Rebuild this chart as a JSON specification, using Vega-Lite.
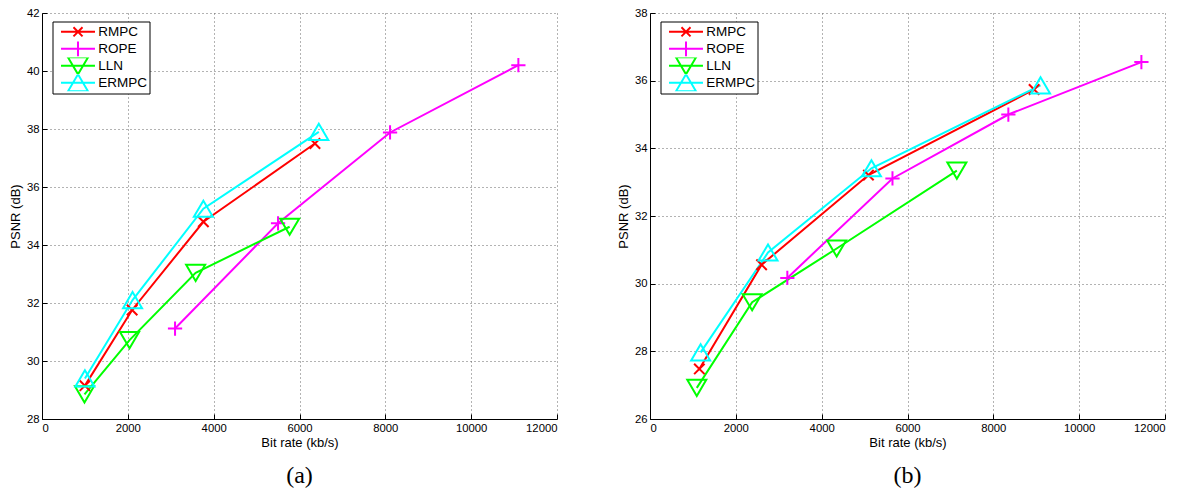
{
  "$schema": "https://vega.github.io/schema/vega-lite/v6.json",
  "padding": {"left": 9, "top": 7, "right": 2, "bottom": 2},
  "background": "white",
  "spacing": 93,
  "bounds": "flush",
  "config": {
    "view": {"stroke": null},
    "font": "Liberation Sans",
    "axis": {
      "labelFont": "Liberation Sans", "labelFontSize": 11.3, "labelColor": "#000",
      "titleFont": "Liberation Sans", "titleFontSize": 13, "titleFontWeight": "normal", "titleColor": "#000",
      "domainColor": "#000", "domainWidth": 1, "tickColor": "#000", "tickSize": -5, "tickWidth": 1,
      "grid": true, "gridColor": "#666", "gridDash": [1, 3], "gridWidth": 1, "gridOpacity": 1,
      "labelPadding": 8
    },
    "legend": {
      "labelFont": "Liberation Sans", "labelFontSize": 13.5, "labelColor": "#000",
      "strokeColor": "#000", "fillColor": "white", "padding": 2,
      "symbolSize": 128, "symbolStrokeWidth": 2, "rowPadding": 0, "columnPadding": 0, "clipHeight": 16.7,
      "symbolOffset": 16.5, "labelOffset": 13.2, "symbolFillColor": "transparent"
    },
    "title": {"font": "Liberation Serif", "fontSize": 24, "fontWeight": "normal", "color": "#000", "orient": "bottom", "anchor": "middle", "offset": 15}
  },
  "datasets": {
    "pts": [
      {"panel": "a", "method": "RMPC", "rate": 1000, "psnr": 29.15},
      {"panel": "a", "method": "RMPC", "rate": 2100, "psnr": 31.76},
      {"panel": "a", "method": "RMPC", "rate": 3760, "psnr": 34.8},
      {"panel": "a", "method": "RMPC", "rate": 6360, "psnr": 37.5},
      {"panel": "a", "method": "ROPE", "rate": 3100, "psnr": 31.12},
      {"panel": "a", "method": "ROPE", "rate": 5500, "psnr": 34.75},
      {"panel": "a", "method": "ROPE", "rate": 8110, "psnr": 37.88},
      {"panel": "a", "method": "ROPE", "rate": 11100, "psnr": 40.2},
      {"panel": "a", "method": "LLN", "rate": 990, "psnr": 28.85},
      {"panel": "a", "method": "LLN", "rate": 2040, "psnr": 30.72},
      {"panel": "a", "method": "LLN", "rate": 3580, "psnr": 33.04},
      {"panel": "a", "method": "LLN", "rate": 5770, "psnr": 34.63},
      {"panel": "a", "method": "ERMPC", "rate": 1000, "psnr": 29.4},
      {"panel": "a", "method": "ERMPC", "rate": 2110, "psnr": 32.1},
      {"panel": "a", "method": "ERMPC", "rate": 3760, "psnr": 35.25},
      {"panel": "a", "method": "ERMPC", "rate": 6450, "psnr": 37.9},
      {"panel": "b", "method": "RMPC", "rate": 1150, "psnr": 27.48},
      {"panel": "b", "method": "RMPC", "rate": 2600, "psnr": 30.56},
      {"panel": "b", "method": "RMPC", "rate": 5090, "psnr": 33.21},
      {"panel": "b", "method": "RMPC", "rate": 8950, "psnr": 35.74},
      {"panel": "b", "method": "ROPE", "rate": 3200, "psnr": 30.17},
      {"panel": "b", "method": "ROPE", "rate": 5650, "psnr": 33.11},
      {"panel": "b", "method": "ROPE", "rate": 8350, "psnr": 35.0},
      {"panel": "b", "method": "ROPE", "rate": 11450, "psnr": 36.55},
      {"panel": "b", "method": "LLN", "rate": 1090, "psnr": 26.92},
      {"panel": "b", "method": "LLN", "rate": 2380, "psnr": 29.45},
      {"panel": "b", "method": "LLN", "rate": 4350, "psnr": 31.04},
      {"panel": "b", "method": "LLN", "rate": 7150, "psnr": 33.34},
      {"panel": "b", "method": "ERMPC", "rate": 1180, "psnr": 27.97},
      {"panel": "b", "method": "ERMPC", "rate": 2750, "psnr": 30.92},
      {"panel": "b", "method": "ERMPC", "rate": 5160, "psnr": 33.41},
      {"panel": "b", "method": "ERMPC", "rate": 9100, "psnr": 35.86}
    ]
  },
  "resolve": {"legend": {"color": "independent"}, "scale": {"color": "independent"}},
  "hconcat": [
    {
      "width": 515, "height": 406,
      "title": "(a)",
      "data": {"name": "pts"},
      "transform": [{"filter": "datum.panel === 'a'"}],
      "encoding": {
        "x": {"field": "rate", "type": "quantitative", "scale": {"domain": [0, 12000], "nice": false},
              "axis": {"title": "Bit rate (kb/s)", "values": [0, 2000, 4000, 6000, 8000, 10000, 12000], "format": "d", "titlePadding": 3}},
        "y": {"field": "psnr", "type": "quantitative", "scale": {"domain": [28, 42], "nice": false, "zero": false},
              "axis": {"title": "PSNR (dB)", "values": [28, 30, 32, 34, 36, 38, 40, 42], "titlePadding": 4}}
      },
      "resolve": {"scale": {"color": "independent"}},
      "layer": [
        {
          "mark": {"type": "line", "strokeWidth": 2},
          "encoding": {
            "color": {"field": "method", "type": "nominal",
              "scale": {"domain": ["RMPC", "ROPE", "LLN", "ERMPC"], "range": ["#ff0000", "#ff00ff", "#00ff00", "#00ffff"]},
              "legend": {"title": null, "orient": "none", "legendX": 10.5, "legendY": 8.5,
                "encode": {"symbols": {"update": {
                  "shape": {"signal": "datum.value === 'RMPC' ? 'M-3,0L3,0M-0.8,-0.8L0.8,0.8M-0.8,0.8L0.8,-0.8' : datum.value === 'ROPE' ? 'M-3,0L3,0M-1.3,0L1.3,0M0,-1.3L0,1.3' : datum.value === 'LLN' ? 'M-3,0L3,0M-1.77,-1.5L1.77,-1.5L0,1.5Z' : 'M-3,0L3,0M0,-1.5L1.77,1.5L-1.77,1.5Z'"},
                  "fill": {"value": "transparent"},
                  "size": {"value": 128},
                  "strokeWidth": {"value": 2}
                }}}}
            }
          }
        },
        {
          "mark": {"type": "point", "filled": false, "strokeWidth": 2, "size": 361, "opacity": 1},
          "encoding": {
            "color": {"field": "method", "type": "nominal", "legend": null,
              "scale": {"domain": ["RMPC", "ROPE", "LLN", "ERMPC"], "range": ["#ff0000", "#ff00ff", "#00ff00", "#00ffff"]}},
            "shape": {"field": "method", "type": "nominal", "legend": null,
              "scale": {"domain": ["RMPC", "ROPE", "LLN", "ERMPC"],
                "range": ["M-0.55,-0.55L0.55,0.55M-0.55,0.55L0.55,-0.55", "M-0.75,0L0.75,0M0,-0.75L0,0.75", "M-1,-0.85L1,-0.85L0,0.85Z", "M0,-0.85L1,0.85L-1,0.85Z"]}}
          }
        }
      ]
    },
    {
      "width": 515, "height": 406,
      "title": "(b)",
      "data": {"name": "pts"},
      "transform": [{"filter": "datum.panel === 'b'"}],
      "encoding": {
        "x": {"field": "rate", "type": "quantitative", "scale": {"domain": [0, 12000], "nice": false},
              "axis": {"title": "Bit rate (kb/s)", "values": [0, 2000, 4000, 6000, 8000, 10000, 12000], "format": "d", "titlePadding": 3}},
        "y": {"field": "psnr", "type": "quantitative", "scale": {"domain": [26, 38], "nice": false, "zero": false},
              "axis": {"title": "PSNR (dB)", "values": [26, 28, 30, 32, 34, 36, 38], "titlePadding": 4}}
      },
      "resolve": {"scale": {"color": "independent"}},
      "layer": [
        {
          "mark": {"type": "line", "strokeWidth": 2},
          "encoding": {
            "color": {"field": "method", "type": "nominal",
              "scale": {"domain": ["RMPC", "ROPE", "LLN", "ERMPC"], "range": ["#ff0000", "#ff00ff", "#00ff00", "#00ffff"]},
              "legend": {"title": null, "orient": "none", "legendX": 10.5, "legendY": 8.5,
                "encode": {"symbols": {"update": {
                  "shape": {"signal": "datum.value === 'RMPC' ? 'M-3,0L3,0M-0.8,-0.8L0.8,0.8M-0.8,0.8L0.8,-0.8' : datum.value === 'ROPE' ? 'M-3,0L3,0M-1.3,0L1.3,0M0,-1.3L0,1.3' : datum.value === 'LLN' ? 'M-3,0L3,0M-1.77,-1.5L1.77,-1.5L0,1.5Z' : 'M-3,0L3,0M0,-1.5L1.77,1.5L-1.77,1.5Z'"},
                  "fill": {"value": "transparent"},
                  "size": {"value": 128},
                  "strokeWidth": {"value": 2}
                }}}}
            }
          }
        },
        {
          "mark": {"type": "point", "filled": false, "strokeWidth": 2, "size": 361, "opacity": 1},
          "encoding": {
            "color": {"field": "method", "type": "nominal", "legend": null,
              "scale": {"domain": ["RMPC", "ROPE", "LLN", "ERMPC"], "range": ["#ff0000", "#ff00ff", "#00ff00", "#00ffff"]}},
            "shape": {"field": "method", "type": "nominal", "legend": null,
              "scale": {"domain": ["RMPC", "ROPE", "LLN", "ERMPC"],
                "range": ["M-0.55,-0.55L0.55,0.55M-0.55,0.55L0.55,-0.55", "M-0.75,0L0.75,0M0,-0.75L0,0.75", "M-1,-0.85L1,-0.85L0,0.85Z", "M0,-0.85L1,0.85L-1,0.85Z"]}}
          }
        }
      ]
    }
  ]
}
